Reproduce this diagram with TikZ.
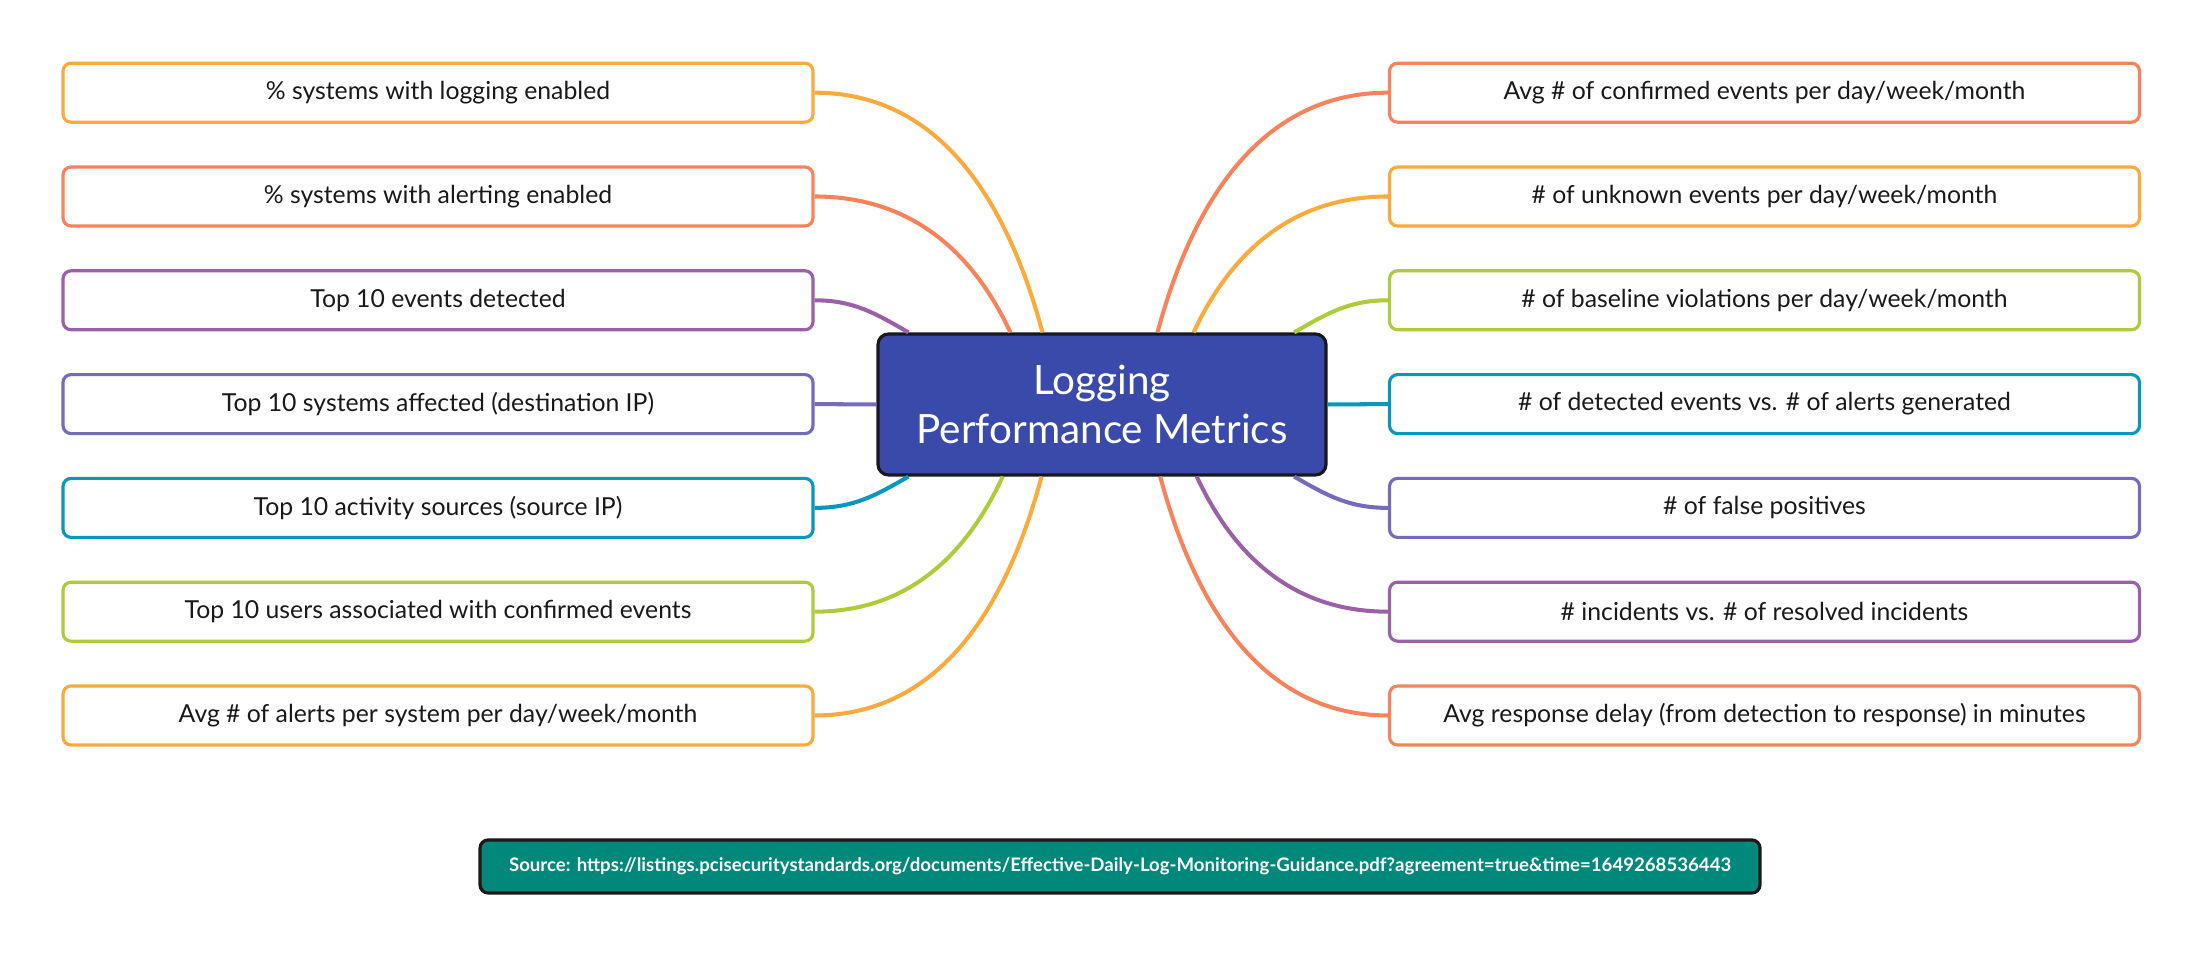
\documentclass[tikz,border=0pt]{standalone}
\usepackage{fontspec}
\setmainfont{Lato}
\usetikzlibrary{calc,positioning}
\definecolor{cOrange}{HTML}{FBAA3B}
\definecolor{cCoral}{HTML}{F8825A}
\definecolor{cPurple}{HTML}{9C60A8}
\definecolor{cViolet}{HTML}{756BBD}
\definecolor{cTeal}{HTML}{0798C0}
\definecolor{cLime}{HTML}{AECB3A}
\definecolor{hubfill}{HTML}{3A4AAA}
\definecolor{srcfill}{HTML}{00897A}
\tikzset{
  leaf/.style={draw=#1,line width=0.9pt,rounded corners=2.3pt,fill=white,
    minimum width=7.5cm,minimum height=0.59cm,inner sep=0pt,
    font=\fontsize{7.05}{8.5}\selectfont,text=black!90},
  hub/.style={draw=black!90,line width=0.9pt,rounded corners=3pt,fill=hubfill,
    minimum width=4.48cm,minimum height=1.41cm,align=center,text=white,
    font=\fontsize{11.5}{14}\selectfont},
  srcbox/.style={draw=black!90,line width=0.9pt,rounded corners=2.3pt,fill=srcfill,
    minimum width=12.8cm,minimum height=0.53cm,inner sep=0pt,text=white,
    font=\bfseries\fontsize{5.3}{7}\selectfont},
  link/.style={draw=#1,line width=1.15pt}
}
\begin{document}
\begin{tikzpicture}
\useasboundingbox (0,0) rectangle (22.02,9.56);
% central topic
\node[hub] (hub) at (11.02,5.515) {Logging\\Performance Metrics};
% left branch
\node[leaf=cOrange] (l1) at (4.38,8.633) {\% systems with logging enabled};
\node[leaf=cCoral]  (l2) at (4.38,7.595) {\% systems with alerting enabled};
\node[leaf=cPurple] (l3) at (4.38,6.557) {Top 10 events detected};
\node[leaf=cViolet] (l4) at (4.38,5.519) {Top 10 systems affected (destination IP)};
\node[leaf=cTeal]   (l5) at (4.38,4.481) {Top 10 activity sources (source IP)};
\node[leaf=cLime]   (l6) at (4.38,3.443) {Top 10 users associated with confirmed events};
\node[leaf=cOrange] (l7) at (4.38,2.405) {Avg \# of alerts per system per day/week/month};
% right branch
\node[leaf=cCoral]  (r1) at (17.645,8.633) {Avg \# of confirmed events per day/week/month};
\node[leaf=cOrange] (r2) at (17.645,7.595) {\# of unknown events per day/week/month};
\node[leaf=cLime]   (r3) at (17.645,6.557) {\# of baseline violations per day/week/month};
\node[leaf=cTeal]   (r4) at (17.645,5.519) {\# of detected events vs. \# of alerts generated};
\node[leaf=cViolet] (r5) at (17.645,4.481) {\# of false positives};
\node[leaf=cPurple] (r6) at (17.645,3.443) {\# incidents vs. \# of resolved incidents};
\node[leaf=cCoral]  (r7) at (17.645,2.405) {Avg response delay (from detection to response) in minutes};
% source note
\node[srcbox] (src) at (11.20,0.895) {Source: https://listings.pcisecuritystandards.org/documents/Effective-Daily-Log-Monitoring-Guidance.pdf?agreement=true\&time=1649268536443};
% connectors, left
\draw[link=cOrange] (l1.east) to[out=0,in=105] ($(hub.north west)!0.368!(hub.north east)$);
\draw[link=cCoral]  (l2.east) to[out=0,in=115] ($(hub.north west)!0.297!(hub.north east)$);
\draw[link=cPurple] (l3.east) to[out=0,in=150] ($(hub.north west)!0.071!(hub.north east)$);
\draw[link=cViolet] (l4.east) -- (hub.west);
\draw[link=cTeal]   (l5.east) to[out=0,in=210] ($(hub.south west)!0.071!(hub.south east)$);
\draw[link=cLime]   (l6.east) to[out=0,in=245] ($(hub.south west)!0.28!(hub.south east)$);
\draw[link=cOrange] (l7.east) to[out=0,in=255] ($(hub.south west)!0.366!(hub.south east)$);
% connectors, right
\draw[link=cCoral]  (r1.west) to[out=180,in=75] ($(hub.north west)!0.623!(hub.north east)$);
\draw[link=cOrange] (r2.west) to[out=180,in=65] ($(hub.north west)!0.703!(hub.north east)$);
\draw[link=cLime]   (r3.west) to[out=180,in=30] ($(hub.north west)!0.926!(hub.north east)$);
\draw[link=cTeal]   (r4.west) -- (hub.east);
\draw[link=cViolet] (r5.west) to[out=180,in=-30] ($(hub.south west)!0.926!(hub.south east)$);
\draw[link=cPurple] (r6.west) to[out=180,in=-65] ($(hub.south west)!0.71!(hub.south east)$);
\draw[link=cCoral]  (r7.west) to[out=180,in=-75] ($(hub.south west)!0.629!(hub.south east)$);
\end{tikzpicture}
\end{document}
